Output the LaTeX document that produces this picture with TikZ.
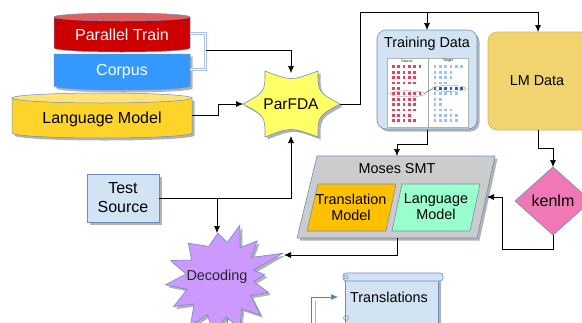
\documentclass[tikz,border=0pt]{standalone}
\usepackage{fontspec}
\setmainfont{Liberation Sans}
\usetikzlibrary{arrows.meta,shadows,calc}
\definecolor{bordblue}{HTML}{6C8EBF}
\definecolor{tdblue}{HTML}{D2E4F4}
\definecolor{ptred}{HTML}{CC0000}
\definecolor{pttop}{HTML}{E06060}
\definecolor{corpblue}{HTML}{3399FF}
\definecolor{lmyel}{HTML}{FFD42A}
\definecolor{lmtop}{HTML}{FFE27A}
\definecolor{parfda}{HTML}{FFFF66}
\definecolor{lmdgold}{HTML}{F1D46F}
\definecolor{lmdbord}{HTML}{D6B656}
\definecolor{mosesgray}{HTML}{CCCCCC}
\definecolor{tmorange}{HTML}{FFC000}
\definecolor{lmmint}{HTML}{99FFCC}
\definecolor{kenpink}{HTML}{F078B4}
\definecolor{decpurple}{HTML}{CC99FF}
\definecolor{brk}{HTML}{A9C4EB}
\definecolor{srcred}{HTML}{E8405E}
\definecolor{tgtlight}{HTML}{9CC3F0}
\definecolor{tgtdark}{HTML}{1F5FE0}
\definecolor{bluearrow}{HTML}{4F81BD}
\begin{document}
\begin{tikzpicture}[x=1pt,y=-1pt,
  conn/.style={draw=black, line width=0.7pt, -{Latex[length=7pt,width=6pt]}},
  plain/.style={draw=black, line width=0.7pt},
  shad/.style={drop shadow={opacity=0.3, shadow xshift=2.5pt, shadow yshift=-2.5pt, fill=black}},
  big/.style={font=\fontsize{16}{19}\selectfont, align=center},
  mid/.style={font=\fontsize{14.4}{16}\selectfont, align=center},
  tiny/.style={font=\fontsize{3.5}{4}\selectfont, inner sep=0pt}]
\clip (0,0) rectangle (582,322);
\useasboundingbox (0,0) rectangle (582,322);

% ---------- cylinders ----------
\path[fill=corpblue, draw=bordblue, line width=0.5pt, shad] (54,54) -- (54,86) arc[start angle=180,end angle=360,x radius=68pt,y radius=4pt] -- (190,54) -- cycle;
\path[fill=ptred, draw=bordblue, line width=0.5pt] (54,17) -- (54,48) arc[start angle=180,end angle=360,x radius=68pt,y radius=4pt] -- (190,17) -- cycle;
\path[fill=pttop, draw=bordblue, line width=0.5pt] (122,17) ellipse[x radius=68pt,y radius=4pt];
\node[big, text=white] (pt) at (122,35) {Parallel Train};
\node[big, text=white] (corpus) at (122,72) {Corpus};

\path[fill=lmyel, draw=bordblue, line width=0.5pt, shad] (12,98) -- (12,133) arc[start angle=180,end angle=360,x radius=90pt,y radius=5pt] -- (192,98) -- cycle;
\path[fill=lmtop, draw=bordblue, line width=0.5pt] (102,98) ellipse[x radius=90pt,y radius=5pt];
\node[big] (lmc) at (102,119) {Language Model};

% bracket
\draw[draw=brk, double=white, double distance=1.6pt, line width=0.6pt] (190,33.5) -| (205.5,69.5) -- (190,69.5);

% ---------- ParFDA ----------
\draw[fill=parfda, draw=bordblue, line width=0.6pt, shad] (243,104) .. controls (265,92) .. (265,71) .. controls (291,81) .. (318,71) .. controls (318,92) .. (340,104) .. controls (318,116) .. (318,137) .. controls (291,127) .. (265,137) .. controls (265,116) .. (243,104) -- cycle;
\node[mid, font=\fontsize{15.5}{18}\selectfont] (pf) at (291,104) {ParFDA};

% ---------- Training Data ----------
\node[draw=bordblue, fill=tdblue, rounded corners=9pt, minimum width=100pt, minimum height=99pt, line width=0.6pt, shad] (td) at (427,79.5) {};
\node[mid] (tdtitle) at (427,44) {Training Data};
\draw[fill=white, draw=gray!60, line width=0.3pt] (387,58) rectangle (468,127);
\draw[gray!70, line width=0.5pt] (428,58) -- (428,127);
\node[tiny] (srclab) at (407,61) {Source};
\node[tiny] (tgtlab) at (448,61) {Target};
\foreach \n [count=\i from 0] in {6,5,5,5,2,6,5,5,5,4,5} {
  \foreach \j in {1,...,\n} {
    \fill[srcred] (386.7+5.3*\j, 65.4+5.4*\i) rectangle ++(2.7,2.7);
  }
}
\foreach \n [count=\i from 0] in {6,4,4,3,6,5,2,2,4,5,5} {
  \foreach \j in {1,...,\n} {
    \ifnum\i=4
      \fill[tgtdark] (428.4+5.3*\j, 65.4+5.4*\i) rectangle ++(2.7,2.7);
    \else
      \fill[tgtlight] (428.4+5.3*\j, 65.4+5.4*\i) rectangle ++(2.7,2.7);
    \fi
  }
}
\draw[gray, line width=0.3pt] (407.5,93.8) ellipse[x radius=17.5pt, y radius=3pt];
\draw[gray, line width=0.3pt] (449,88.4) ellipse[x radius=17pt, y radius=3pt];
\draw[black!70, line width=0.4pt] (425,93) -- (432,89);

% ---------- LM Data ----------
\node[draw=lmdbord, fill=lmdgold, rounded corners=9pt, minimum width=112pt, minimum height=98pt, line width=0.6pt] (lmd) at (544,81) {};
\node[mid] (lmdtext) at (537,81) {LM Data};

% ---------- Moses SMT ----------
\draw[fill=mosesgray, draw=bordblue, line width=0.6pt, shad] (317,156) -- (495,156) -- (477,238) -- (297,238) -- cycle;
\node[mid] (moses) at (397,169) {Moses SMT};
\draw[fill=tmorange, draw=bordblue, line width=0.6pt] (318,184) -- (396,184) -- (386,231) -- (307,231) -- cycle;
\node[mid] (tm) at (351,207) {Translation\\Model};
\draw[fill=lmmint, draw=bordblue, line width=0.6pt] (402,184) -- (480,184) -- (470,231) -- (392,231) -- cycle;
\node[mid] (lmm) at (436,207) {Language\\Model};

% ---------- kenlm ----------
\draw[fill=kenpink, draw=bordblue, line width=0.6pt] (553,167) -- (591,201) -- (553,235) -- (515,201) -- cycle;
\node[big] (ken) at (553,201) {kenlm};

% ---------- Test Source ----------
\node[draw=bordblue, fill=tdblue, minimum width=72pt, minimum height=48pt, line width=0.6pt, shad, big] (ts) at (123,198) {Test\\Source};

% ---------- Decoding ----------
\draw[bordblue, line width=0.5pt] (227,285) -- (227,330);
\begin{scope}[shift={(221,277)}]
\draw[fill=decpurple, draw=bordblue, line width=0.6pt, shad] (3:44pt)
  -- (12:33pt) -- (21:66pt) -- (33:36pt) -- (45:51pt) -- (57:35pt) -- (70:55pt)
  -- (80:35pt) -- (94:44pt) -- (112:33pt) -- (134:47pt) -- (150:34pt) -- (162:53pt)
  -- (175:35pt) -- (188:56pt) -- (200:36pt) -- (212:56pt) -- (225:38pt) -- (238:58pt)
  -- (250:40pt) -- (263:58pt) -- (277:40pt) -- (290:55pt) -- (303:38pt) -- (316:55pt)
  -- (328:35pt) -- (342:50pt) -- (352:33pt) -- cycle;
\end{scope}
\node[mid, text=black!85] (dec) at (217,277) {Decoding};

% ---------- Translations scroll ----------
\draw[fill=tdblue, draw=bordblue, line width=0.6pt, shad] (345,277) -- (345,330) -- (438,330) -- (438,277) -- cycle;
\draw[fill=tdblue, draw=bordblue, line width=0.6pt, rounded corners=3pt] (343,273) rectangle (443,281);
\draw[draw=bordblue, line width=0.5pt] (346,277) circle[radius=2pt];
\draw[draw=bordblue, line width=0.5pt] (346,318) circle[radius=2.5pt];
\node[mid] (trans) at (389,297) {Translations};

% ---------- named connection points ----------
\coordinate (brkR) at (205.5,50);
\coordinate (lmcR) at (192,115);
\coordinate (pfT) at (291,73);
\coordinate (pfL) at (243,104);
\coordinate (pfR) at (340,104);
\coordinate (pfB) at (291,136);
\coordinate (tdT) at (427,30);
\coordinate (tdB) at (427,129.5);
\coordinate (lmdT) at (538,32);
\coordinate (lmdB) at (538,130);
\coordinate (msT) at (397,156);
\coordinate (msB) at (397,238);
\coordinate (msR) at (487,197);
\coordinate (kT) at (553,167);
\coordinate (kB) at (553,235);
\coordinate (tsR) at (159,198);
\coordinate (dcT) at (217,233);
\coordinate (dcR) at (284,255);
\coordinate (trL) at (338,297);
\coordinate (split) at (427,12);
\coordinate (tsSplit) at (217,198);

% ---------- connectors ----------
\draw[conn] (brkR) -| (pfT);
\draw[conn] (lmcR) -- (218,115) |- (pfL);
\draw[conn] (pfR) -- (360,104) -- (360,12) -| (lmdT);
\draw[conn] (split) -- (tdT);
\draw[conn] (tdB) -- (427,144) -| (msT);
\draw[conn] (lmdB) -- (538,148) -| (kT);
\draw[conn] (kB) -- (553,249) -| (502,197) -- (msR);
\draw[conn] (tsR) -| (pfB);
\draw[conn] (tsSplit) -- (dcT);
\draw[conn] (msB) -- (397,255) -- (dcR);
\draw[draw=bluearrow, line width=0.6pt, -{Latex[length=7pt,width=6pt]}] (311,330) -- (311,297) -- (trL);
\draw[draw=bluearrow!60, line width=0.5pt] (315,330) -- (315,301);
\end{tikzpicture}
\end{document}
